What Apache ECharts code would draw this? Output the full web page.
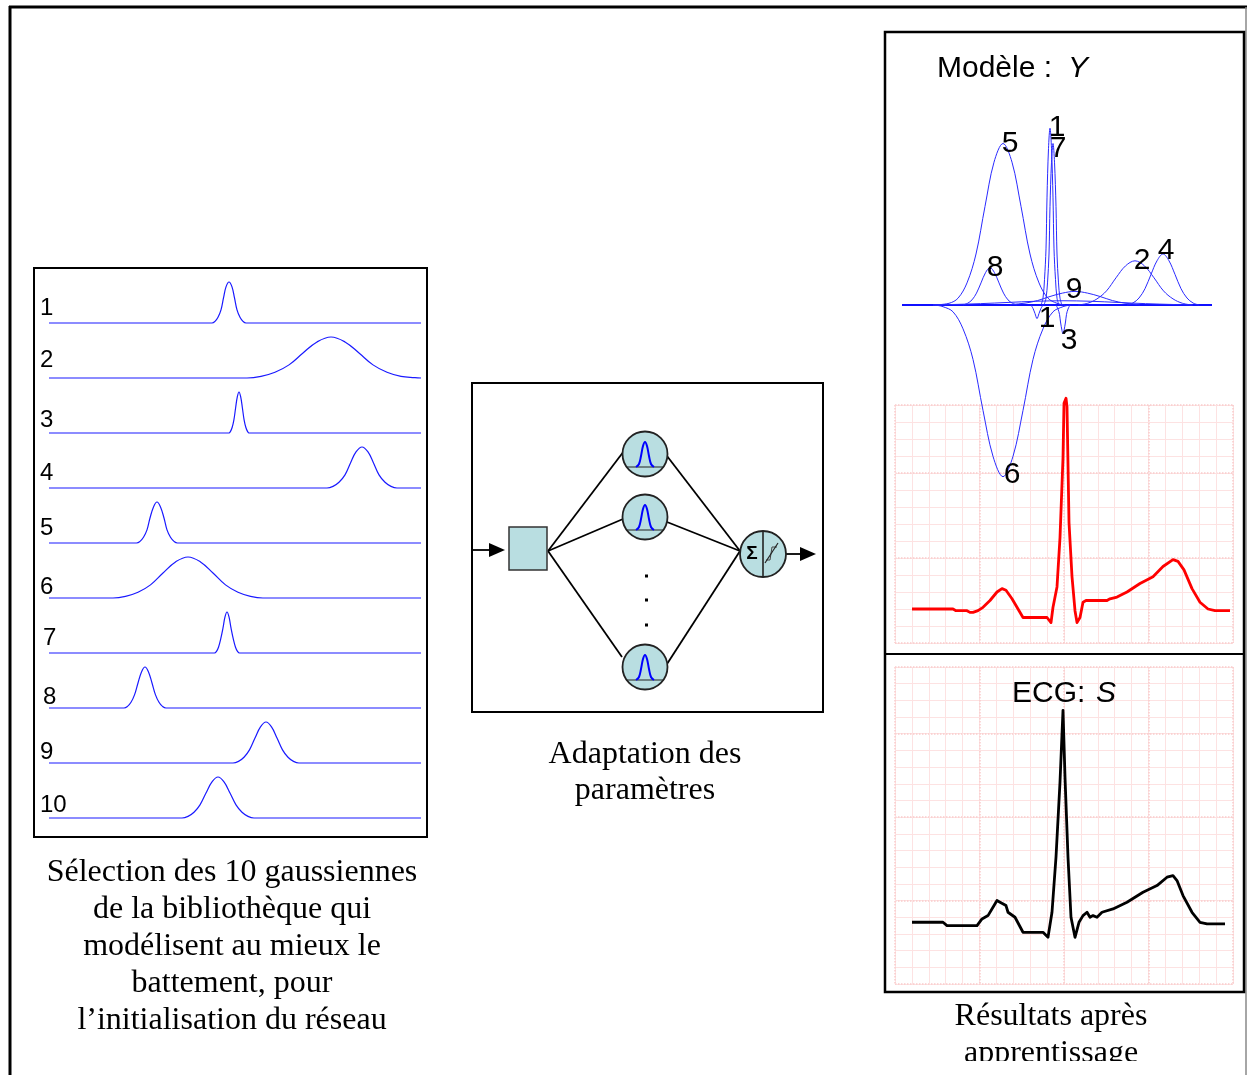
<!DOCTYPE html>
<html><head><meta charset="utf-8">
<script src="https://cdn.jsdelivr.net/npm/echarts@6.0.0/dist/echarts.min.js"></script>
<style>html,body{margin:0;padding:0;background:#fff}#c{width:1248px;height:1075px}</style>
</head><body><div id="c"></div><script>
// ---------- DATA ----------
// Left panel: the 10 library gaussians (x = sample, y = normalised amplitude)
var rowLabels = ['1','2','3','4','5','6','7','8','9','10'];
var g1 = [[0,0],[163,0],[166,0.04],[169,0.14],[172,0.32],[174.5,0.61],[177,0.88],[180,1],[183,0.88],[185.5,0.61],[188,0.32],[191,0.14],[194,0.04],[197,0],[372,0]];
var g2 = [[0,0],[198,0],[212,0.04],[226,0.14],[240,0.32],[254,0.61],[268,0.88],[282,1],[296,0.88],[310,0.61],[324,0.32],[338,0.14],[352,0.04],[366,0.01],[372,0]];
var g3 = [[0,0],[180,0],[181.5,0.04],[183.2,0.14],[184.9,0.32],[186.6,0.61],[188.3,0.88],[190,1],[191.7,0.88],[193.4,0.61],[195.1,0.32],[196.8,0.14],[198.5,0.04],[200,0],[372,0]];
var g4 = [[0,0],[278,0],[284,0.04],[290,0.14],[296,0.32],[301.5,0.61],[307,0.88],[313,1],[319,0.88],[324.5,0.61],[330,0.32],[336,0.14],[342,0.04],[348,0],[372,0]];
var g5 = [[0,0],[87.5,0],[91,0.04],[94.5,0.14],[98,0.32],[101,0.61],[104.5,0.88],[108,1],[111.5,0.88],[115,0.61],[118,0.32],[121.5,0.14],[125,0.04],[128.5,0],[372,0]];
var g6 = [[0,0],[64,0],[76.5,0.04],[89,0.14],[101.5,0.32],[114,0.61],[126.5,0.88],[139,1],[151.5,0.88],[164,0.61],[176.5,0.32],[189,0.14],[201.5,0.04],[214,0],[372,0]];
var g7 = [[0,0],[165.5,0],[167.5,0.04],[169.5,0.14],[171.5,0.32],[174,0.61],[176,0.88],[178,1],[180,0.88],[182,0.61],[184.5,0.32],[186.5,0.14],[188.5,0.04],[190.5,0],[372,0]];
var g8 = [[0,0],[75,0],[78.5,0.04],[82,0.14],[85.5,0.32],[89,0.61],[92.5,0.88],[96,1],[99.5,0.88],[103,0.61],[106.5,0.32],[110,0.14],[113.5,0.04],[117,0],[372,0]];
var g9 = [[0,0],[184,0],[189.5,0.04],[195,0.14],[200.5,0.32],[206,0.61],[211.5,0.88],[217,1],[222.5,0.88],[228,0.61],[233.5,0.32],[239,0.14],[244.5,0.04],[250,0],[372,0]];
var g10 = [[0,0],[133,0],[139,0.04],[145,0.14],[151,0.32],[157,0.61],[163,0.88],[169,1],[175,0.88],[181,0.61],[187,0.32],[193,0.14],[199,0.04],[205,0],[372,0]];
var libraryGaussians = [g1,g2,g3,g4,g5,g6,g7,g8,g9,g10];

// Model Y (x = sample, y = amplitude)
var mBase = [[7,0],[317,0]];
var m5 = [[38,0],[54,0.01],[63,0.04],[72,0.13],[81,0.30],[90,0.58],[99,0.84],[108,0.95],[117,0.84],[126,0.58],[135,0.30],[144,0.13],[153,0.04],[162,0.01],[170,0]];
var m6 = [[40,0],[48,-0.01],[58,-0.04],[68,-0.14],[78,-0.32],[88,-0.62],[98,-0.89],[108,-1.01],[118,-0.89],[128,-0.62],[138,-0.32],[148,-0.14],[158,-0.04],[168,-0.01],[175,0]];
var m8 = [[68,0],[72.5,0.01],[77,0.03],[81.5,0.07],[86,0.13],[90.5,0.19],[95,0.22],[99.5,0.19],[104,0.13],[108.5,0.07],[113,0.03],[117.5,0.01],[122,0]];
var m1 = [[146,0],[148,0.04],[149.5,0.15],[151,0.33],[152,0.63],[153.5,0.92],[155,1.04],[156.5,0.92],[158,0.63],[159,0.33],[160.5,0.15],[162,0.04],[164,0]];
var m7 = [[149,0],[151,0.04],[152.5,0.13],[154,0.30],[155,0.58],[156.5,0.84],[158,0.95],[159.5,0.84],[161,0.58],[162,0.30],[163.5,0.13],[165,0.04],[167,0]];
var m9 = [[115,0],[117.5,0.003],[130,0.011],[142.5,0.026],[155,0.05],[167.5,0.07],[180,0.08],[192.5,0.07],[205,0.05],[217.5,0.026],[230,0.011],[242.5,0.003],[245,0]];
var m10 = [[38,0],[58,0.003],[85.5,0.008],[113,0.015],[140.5,0.022],[168,0.025],[195.5,0.022],[223,0.015],[250.5,0.008],[278,0.003],[298,0]];
var m2 = [[183,0],[192.5,0.01],[202,0.036],[211.5,0.083],[221,0.16],[230.5,0.23],[240,0.26],[249.5,0.23],[259,0.16],[268.5,0.083],[278,0.036],[287.5,0.01],[297,0]];
var m4 = [[232,0],[238,0.012],[244,0.041],[250,0.096],[256,0.18],[262,0.26],[268,0.30],[274,0.26],[280,0.18],[286,0.096],[292,0.041],[298,0.012],[304,0]];
var m3 = [[161,0],[163,-0.024],[164.5,-0.055],[165.5,-0.10],[167,-0.15],[168,-0.17],[169,-0.15],[170.5,-0.10],[171.5,-0.055],[173,-0.024],[175,0]];
var m1neg = [[136,0],[138,-0.02],[140,-0.05],[142,-0.08],[144,-0.05],[146,-0.02],[148,0]];
var modelCurves = [m5,m6,m8,m1,m7,m9,m10,m2,m4,m3,m1neg];
var modelLabels = [['5',115,0.95],['1',162,1.04],['7',163,0.92],['8',100,0.22],['9',179,0.09],['2',247,0.26],['4',271,0.32],['1',152,-0.08],['3',174,-0.21],['6',117,-1.00]];

// ECG beats (x = sample, y = mV)
var ecgModel = [[17,0],[58,0],[61,-0.01],[72,-0.01],[75,-0.02],[78,-0.02],[83,-0.01],[88,0.01],[95,0.05],[102,0.10],[107,0.12],[111,0.11],[117,0.06],[122,0.01],[128,-0.05],[142,-0.05],[144,-0.06],[147,-0.05],[152,-0.05],[156,-0.08],[158,0.01],[162,0.13],[165,0.42],[168,0.89],[169,1.21],[171,1.24],[172,1.19],[174,0.51],[177,0.19],[180,-0.01],[182,-0.08],[185,-0.05],[188,0.04],[191,0.05],[212,0.05],[215,0.06],[222,0.07],[232,0.10],[245,0.15],[258,0.19],[268,0.25],[278,0.29],[283,0.28],[289,0.23],[297,0.12],[305,0.04],[313,0.00],[320,-0.01],[335,-0.01]];
var ecgSignal = [[17,-0.03],[28,-0.03],[48,-0.03],[52,-0.05],[82,-0.05],[87,-0.01],[93,0.01],[98,0.06],[102,0.10],[105,0.09],[111,0.07],[113,0.03],[120,0.00],[128,-0.09],[132,-0.09],[148,-0.09],[153,-0.12],[157,0.03],[161,0.36],[165,0.81],[168,1.24],[170,0.84],[173,0.36],[176,0.00],[180,-0.12],[184,-0.03],[188,0.01],[192,0.03],[195,0.00],[198,0.01],[202,0.00],[207,0.03],[218,0.05],[232,0.09],[248,0.15],[262,0.19],[272,0.24],[278,0.25],[282,0.22],[288,0.13],[297,0.03],[305,-0.03],[312,-0.04],[330,-0.04]];

// ---------- LAYOUT ----------
var rowBase = [323,378,433,488,543,598,653,708,763,818];
var rowLabelPos = [[40,308],[40,360],[40,420],[40,473],[40,528],[40,587],[43,638],[43,697],[40,752],[40,805]];
var BLUE = '#1a1aff';
var TEAL = '#b9dee1';
var SANS = '"Liberation Sans", Arial, sans-serif';
var SERIF = '"Liberation Serif", "Times New Roman", serif';

var grids = [], xAxes = [], yAxes = [], series = [];
var hidden = {show:false};
rowBase.forEach(function(b,i){
  grids.push({left:49, top:b-41, width:372, height:41});
  xAxes.push({type:'value', gridIndex:i, min:0, max:372, show:false});
  yAxes.push({type:'value', gridIndex:i, min:0, max:1, show:false});
  series.push({type:'line', xAxisIndex:i, yAxisIndex:i, data:libraryGaussians[i], smooth:0.4, symbol:'none', clip:false,
    lineStyle:{color:BLUE, width:1.2}});
});
// model grid (10)
grids.push({left:895, top:101, width:338, height:408});
xAxes.push({type:'value', gridIndex:10, min:0, max:338, show:false});
yAxes.push({type:'value', gridIndex:10, min:-1.2, max:1.2, show:false});
// ECG paper helpers
function paperAxes(gi, yMin, yMax, majSpan){
  var minorCol = '#fde2e2', majorCol = '#f9cccc';
  xAxes.push({type:'value', gridIndex:gi, min:0, max:338, interval:16.9, position:'bottom',
    axisLine:hidden, axisTick:hidden, axisLabel:hidden, splitLine:{show:true, lineStyle:{color:minorCol, width:1}}});
  xAxes.push({type:'value', gridIndex:gi, min:0, max:338, interval:84.5, position:'top',
    axisLine:hidden, axisTick:hidden, axisLabel:hidden, splitLine:{show:true, lineStyle:{color:majorCol, width:1.5, type:'dotted'}}});
  yAxes.push({type:'value', gridIndex:gi, min:yMin, max:yMax, interval:0.1, position:'left',
    axisLine:hidden, axisTick:hidden, axisLabel:hidden, splitLine:{show:true, lineStyle:{color:minorCol, width:1}}});
  yAxes.push({type:'value', gridIndex:gi, min:0, max:majSpan, interval:0.5, position:'right',
    axisLine:hidden, axisTick:hidden, axisLabel:hidden, splitLine:{show:true, lineStyle:{color:majorCol, width:1.5, type:'dotted'}}});
}
grids.push({left:895, top:405, width:338, height:238}); // 11
paperAxes(11, -0.2, 1.2, 1.4);   // x 11,12  y 11,12
grids.push({left:895, top:667, width:338, height:317}); // 12
paperAxes(12, -0.4, 1.5, 1.9);   // x 13,14  y 13,14

// model series
series.push({type:'line', xAxisIndex:10, yAxisIndex:10, data:mBase, symbol:'none', clip:false, z:3,
  lineStyle:{color:'#1010ff', width:2.2}});
modelCurves.forEach(function(c){
  series.push({type:'line', xAxisIndex:10, yAxisIndex:10, data:c, smooth:0.35, symbol:'none', clip:false, z:4,
    lineStyle:{color:'#2a2aff', width:1}});
});
series.push({type:'scatter', xAxisIndex:10, yAxisIndex:10, symbolSize:2, itemStyle:{color:'rgba(0,0,0,0)'}, silent:true, z:6,
  data:modelLabels.map(function(d){return {name:d[0], value:[d[1],d[2]]};}),
  label:{show:true, position:'inside', formatter:function(p){return p.name;}, fontSize:30, color:'#000000',
    textBorderWidth:0, textBorderColor:'transparent', opacity:1, fontFamily:SANS}});
// ECG series
series.push({type:'line', xAxisIndex:11, yAxisIndex:11, data:ecgModel, symbol:'none', clip:false, z:5,
  lineStyle:{color:'#ff0000', width:2.8, join:'round'}});
series.push({type:'line', xAxisIndex:13, yAxisIndex:13, data:ecgSignal, symbol:'none', clip:false, z:5,
  lineStyle:{color:'#000000', width:2.8, join:'round'}});

// ---------- GRAPHICS (frames, diagram, texts) ----------
var gr = [];
function line(x1,y1,x2,y2,w,col,z){gr.push({type:'line', z:z||20, shape:{x1:x1,y1:y1,x2:x2,y2:y2}, style:{stroke:col||'#000', lineWidth:w||1.5}});}
function text(t,x,y,font,align,z){gr.push({type:'text', z:z||30, x:x, y:y, style:{text:t, font:font, fill:'#000', align:align||'center', verticalAlign:'middle'}});}
// outer frame
line(9,7,1247,7,3); line(10,6,10,1075,3); line(1246,7,1246,1075,1.5,'#888');
// panel boxes
gr.push({type:'rect', z:20, shape:{x:34,y:268,width:393,height:569}, style:{fill:'none', stroke:'#000', lineWidth:2}});
gr.push({type:'rect', z:20, shape:{x:472,y:383,width:351,height:329}, style:{fill:'none', stroke:'#000', lineWidth:2}});
gr.push({type:'rect', z:20, shape:{x:885,y:32,width:359,height:960}, style:{fill:'none', stroke:'#000', lineWidth:2.5}});
line(884,654,1244,654,2);
// left row labels
rowLabels.forEach(function(l,i){ text(l, rowLabelPos[i][0], rowLabelPos[i][1], '24px '+SANS, 'left'); });
// network diagram
line(473,550,492,550,1.8);
gr.push({type:'polygon', z:21, shape:{points:[[489,543],[505,550],[489,557]]}, style:{fill:'#000'}});
gr.push({type:'rect', z:21, shape:{x:509,y:527,width:38,height:43}, style:{fill:TEAL, stroke:'#333', lineWidth:1.5}});
line(548,551,624,451,1.8); line(548,551,623,519,1.8); line(548,551,622,657,1.8);
line(667,456,740,551,1.8); line(667,522,740,551,1.8); line(667,664,740,551,1.8);
[[645,454],[645,517],[645,667]].forEach(function(c){
  var cx=c[0], cy=c[1];
  gr.push({type:'circle', z:22, shape:{cx:cx,cy:cy,r:22.5}, style:{fill:TEAL, stroke:'#222', lineWidth:1.8}});
  line(cx-18.5,cy+13,cx+18.5,cy+13,1.2,'#222',23);
  gr.push({type:'polyline', z:24, shape:{smooth:0.35, points:[[cx-9,cy+13],[cx-6,cy+10],[cx-4,cy+2],[cx-2,cy-8],[cx,cy-12],[cx+2,cy-8],[cx+4,cy+2],[cx+6,cy+10],[cx+9,cy+13]]},
    style:{stroke:'#0000ff', lineWidth:2, fill:'none'}});
});
[576,600,625].forEach(function(y){ gr.push({type:'rect', z:22, shape:{x:645,y:y-1.5,width:3,height:3}, style:{fill:'#000'}}); });
gr.push({type:'circle', z:22, shape:{cx:763,cy:554,r:23}, style:{fill:TEAL, stroke:'#222', lineWidth:1.8}});
line(763,531,763,577,1.6,'#222',23);
text('Σ', 752, 554, 'bold 19px '+SANS, 'center', 24);
gr.push({type:'polyline', z:24, shape:{points:[[766,560],[770,560],[772,547],[777,547]]}, style:{stroke:'#444', lineWidth:1, fill:'none'}});
line(765,563,778,543,1.2,'#222',24);
line(786,554,802,554,1.8);
gr.push({type:'polygon', z:21, shape:{points:[[800,547],[816,554],[800,561]]}, style:{fill:'#000'}});
// titles in the right panel
text('Modèle : ', 937, 69, '30px '+SANS, 'left');
text('Y', 1068, 69, 'italic 30px '+SANS, 'left');
text('ECG: ', 1012, 694, '30px '+SANS, 'left');
text('S', 1096, 694, 'italic 30px '+SANS, 'left');
// captions
var capL = ['Sélection des 10 gaussiennes','de la bibliothèque qui','modélisent au mieux le','battement, pour','l\u2019initialisation du réseau'];
capL.forEach(function(t,i){ text(t, 232, 873 + i*36.8, '32px '+SERIF); });
text('Adaptation des', 645, 755, '32px '+SERIF);
text('paramètres', 645, 791, '32px '+SERIF);
text('Résultats après', 1051, 1017, '32px '+SERIF);
text('apprentissage', 1051, 1054, '32px '+SERIF);
gr.push({type:'rect', z:60, shape:{x:888,y:1061,width:354,height:20}, style:{fill:'#fff'}});

var chart = echarts.init(document.getElementById('c'), null, {renderer:'canvas'});
chart.setOption({
  animation:false,
  backgroundColor:'#fff',
  grid:grids, xAxis:xAxes, yAxis:yAxes, series:series, graphic:gr
});
</script></body></html>
